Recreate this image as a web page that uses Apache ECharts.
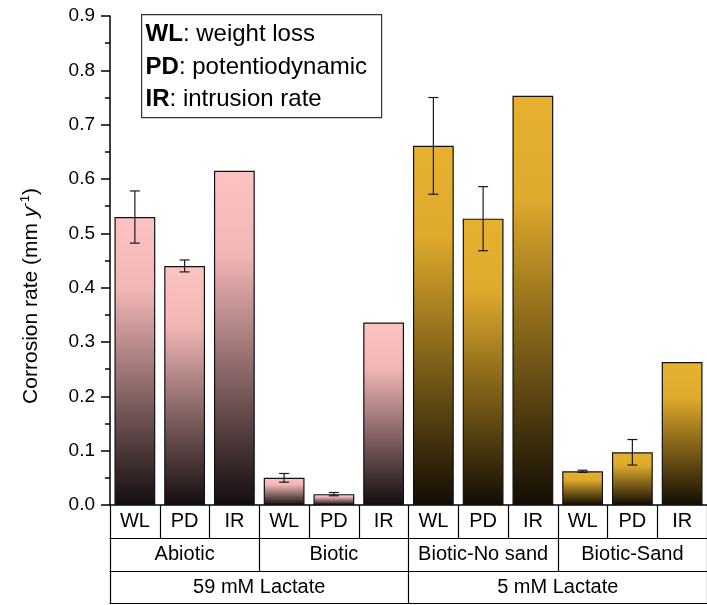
<!DOCTYPE html>
<html>
<head>
<meta charset="utf-8">
<script src="https://cdn.jsdelivr.net/npm/echarts@6/dist/echarts.min.js"></script>
<style>
html,body{margin:0;padding:0;background:#fff;}
#c{width:707px;height:605px;}
</style>
</head>
<body>
<div id="c"></div>
<script>
// ---- data ----
const methods = ['WL','PD','IR','WL','PD','IR','WL','PD','IR','WL','PD','IR'];
const conditions = ['Abiotic','Biotic','Biotic-No sand','Biotic-Sand'];
const media = ['59 mM Lactate','5 mM Lactate'];
const rates = [0.53, 0.44, 0.615, 0.05, 0.02, 0.336, 0.661, 0.527, 0.753, 0.062, 0.097, 0.263];
const errors = [0.048, 0.011, null, 0.008, 0.003, null, 0.089, 0.059, null, 0.002, 0.0235, null];
const legendLines = [['WL','weight loss'],['PD','potentiodynamic'],['IR','intrusion rate']];
const yMin = 0, yMax = 0.9, yStep = 0.1;

// ---- styles ----
const FONT = 'Arial, "Liberation Sans", sans-serif';
const mediumColors = [
  {top:'#fdc2c2', mid:'#f2b6b6', bottom:'#140e0f'},
  {top:'#e7b12f', mid:'#dfaa2c', bottom:'#120d03'}
];
const perMedium = methods.length / media.length;

function grad(c){
  return new echarts.graphic.LinearGradient(0,0,0,1,[
    {offset:0, color:c.top},
    {offset:0.25, color:c.mid},
    {offset:1, color:c.bottom}
  ]);
}

const barData = rates.map((v,i)=>({
  value:v,
  itemStyle:{color:grad(mediumColors[Math.floor(i/perMedium)])}
}));
const errData = [];
errors.forEach((e,i)=>{ if(e!=null) errData.push([i, rates[i]-e, rates[i]+e]); });

const chart = echarts.init(document.getElementById('c'), null, {renderer:'canvas'});
const lineStyle = {color:'#000', width:1.5};
const xLabel = {interval:0, margin:6, fontSize:20, lineHeight:21, color:'#000', fontFamily:FONT};
chart.setOption({
  animation:false,
  backgroundColor:'#fff',
  grid:{left:110, top:16, width:602, height:489, containLabel:false},
  xAxis:[
    {type:'category', data:methods, position:'bottom', offset:0,
     axisLine:{show:true, onZero:false, lineStyle:lineStyle},
     axisTick:{show:true, inside:false, length:33, interval:0, lineStyle:{color:'#000', width:1.2}},
     axisLabel:xLabel, splitLine:{show:false}},
    {type:'category', data:conditions, position:'bottom', offset:33,
     axisLine:{show:true, onZero:false, lineStyle:{color:'#000', width:1.2}},
     axisTick:{show:true, inside:false, length:33, interval:0, lineStyle:{color:'#000', width:1.2}},
     axisLabel:xLabel, splitLine:{show:false}},
    {type:'category', data:media, position:'bottom', offset:66,
     axisLine:{show:true, onZero:false, lineStyle:{color:'#000', width:1.2}},
     axisTick:{show:true, inside:false, length:32, interval:0, lineStyle:{color:'#000', width:1.2}},
     axisLabel:xLabel, splitLine:{show:false}},
    {type:'category', data:[''], position:'bottom', offset:98,
     axisLine:{show:true, onZero:false, lineStyle:{color:'#000', width:1.2}},
     axisTick:{show:false}, axisLabel:{show:false}, splitLine:{show:false}}
  ],
  yAxis:{
    type:'value', min:yMin, max:yMax, interval:yStep,
    axisLine:{show:true, lineStyle:lineStyle},
    axisTick:{show:true, inside:false, length:9, lineStyle:{color:'#000', width:1.5}},
    minorTick:{show:true, splitNumber:2, length:5, lineStyle:{color:'#000', width:1.5}},
    axisLabel:{margin:15, fontSize:19, color:'#000', fontFamily:FONT, formatter:v=>v.toFixed(1)},
    splitLine:{show:false}
  },
  series:[
    {type:'bar', xAxisIndex:0, data:barData, barCategoryGap:'18%',
     itemStyle:{borderColor:'#111', borderWidth:1.2}, z:2},
    {type:'custom', xAxisIndex:0, yAxisIndex:0, data:errData, z:5,
     renderItem:function(params, api){
       const x = api.value(0);
       const lo = api.coord([x, api.value(1)]);
       const hi = api.coord([x, api.value(2)]);
       const hw = 5;
       const st = {stroke:'#1a1a1a', lineWidth:1.2};
       return {type:'group', children:[
         {type:'line', shape:{x1:lo[0], y1:lo[1], x2:hi[0], y2:hi[1]}, style:st},
         {type:'line', shape:{x1:hi[0]-hw, y1:hi[1], x2:hi[0]+hw, y2:hi[1]}, style:st},
         {type:'line', shape:{x1:lo[0]-hw, y1:lo[1], x2:lo[0]+hw, y2:lo[1]}, style:st}
       ]};
     }}
  ],
  graphic:[
    {type:'text', x:31, y:296, rotation:Math.PI/2,
     style:{
       text:'{n|Corrosion rate (mm }{i|y}{s|-1}{n|)}',
       align:'center', verticalAlign:'middle',
       rich:{
         n:{fontSize:21, fontFamily:FONT, fill:'#000', lineHeight:24},
         i:{fontSize:21, fontFamily:FONT, fontStyle:'italic', fill:'#000', lineHeight:24},
         s:{fontSize:13, fontFamily:FONT, fill:'#000', lineHeight:24, verticalAlign:'top'}
       }
     }},
    {type:'group', left:141, top:14, children:[
      {type:'rect', shape:{x:0, y:0, width:240, height:103},
       style:{fill:'#fff', stroke:'#333', lineWidth:1.2}},
      ...legendLines.map((l,k)=>({
        type:'text', x:4, y:20 + k*32.5,
        style:{
          text:'{b|'+l[0]+'}{n|: '+l[1]+'}',
          verticalAlign:'middle', align:'left',
          rich:{
            b:{fontSize:24, fontWeight:'bold', fontFamily:FONT, fill:'#000'},
            n:{fontSize:24, fontFamily:FONT, fill:'#000'}
          }
        }
      }))
    ]}
  ]
});
</script>
</body>
</html>
